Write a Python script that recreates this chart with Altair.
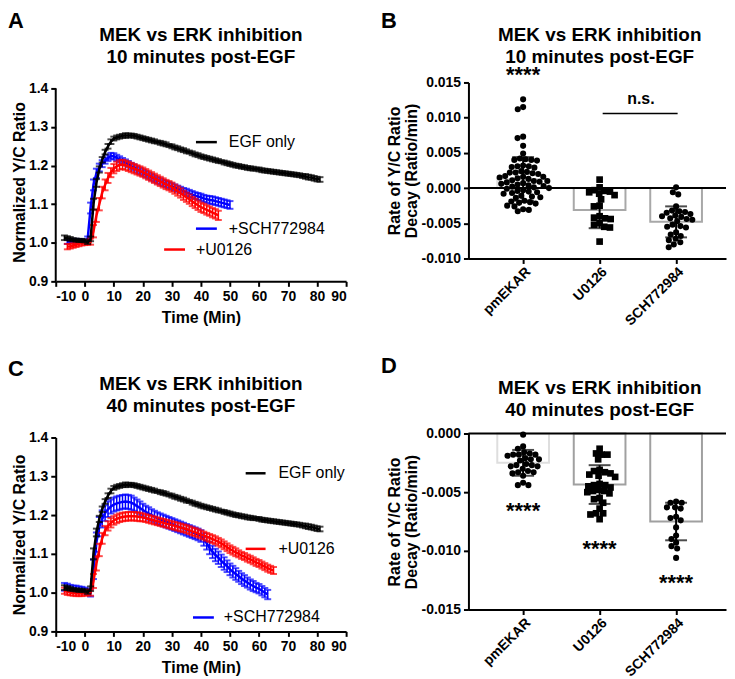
import math
import altair as alt
import pandas as pd

FONT = "Liberation Sans"
BLACK = "#000000"
BLUE = "#0000ff"
RED = "#ff0000"

CATS = ["pmEKAR", "U0126", "SCH772984"]
TITLE_10 = ["MEK vs ERK inhibition", "10 minutes post-EGF"]
TITLE_40 = ["MEK vs ERK inhibition", "40 minutes post-EGF"]

# ---------------- time-course data (Normalized Y/C ratio) ----------------
T_EGF = list(range(-7, 82))
EGF_MEAN = [1.013, 1.012, 1.010, 1.008, 1.007, 1.006, 1.006, 1.005, 1.001, 1.010,
            1.100, 1.155, 1.190, 1.215, 1.235, 1.250, 1.262, 1.270, 1.273, 1.275,
            1.277, 1.278, 1.278, 1.278, 1.277, 1.275, 1.273, 1.271, 1.269, 1.267,
            1.265, 1.263, 1.261, 1.259, 1.257, 1.255, 1.252, 1.250, 1.247, 1.245,
            1.242, 1.240, 1.237, 1.235, 1.232, 1.229, 1.227, 1.224, 1.222, 1.220,
            1.218, 1.216, 1.214, 1.212, 1.210, 1.208, 1.206, 1.204, 1.202, 1.200,
            1.199, 1.197, 1.196, 1.194, 1.193, 1.192, 1.191, 1.190, 1.188, 1.187,
            1.186, 1.185, 1.184, 1.183, 1.182, 1.181, 1.180, 1.179, 1.178, 1.177,
            1.176, 1.175, 1.173, 1.172, 1.170, 1.169, 1.167, 1.165, 1.164]
EGF_SEM = [0.006, 0.005, 0.005, 0.004, 0.004, 0.004, 0.004, 0.004, 0.004, 0.006,
           0.014, 0.010, 0.008, 0.007, 0.006, 0.006, 0.006, 0.005, 0.005, 0.005,
           0.005, 0.006, 0.005, 0.005, 0.005, 0.005, 0.005, 0.005, 0.005, 0.005,
           0.005, 0.005, 0.004, 0.005, 0.005, 0.005, 0.004, 0.005, 0.005, 0.005,
           0.005, 0.005, 0.005, 0.004, 0.005, 0.005, 0.005, 0.005, 0.005, 0.005,
           0.005, 0.005, 0.005, 0.005, 0.004, 0.005, 0.005, 0.005, 0.005, 0.005,
           0.005, 0.005, 0.005, 0.005, 0.005, 0.005, 0.004, 0.005, 0.005, 0.005,
           0.005, 0.005, 0.005, 0.005, 0.005, 0.005, 0.005, 0.005, 0.005, 0.005,
           0.005, 0.005, 0.005, 0.006, 0.006, 0.006, 0.006, 0.006, 0.006]

T_SCH_10 = list(range(-6, 51))
SCH_10_MEAN = [1.003, 1.004, 1.005, 1.005, 1.004, 1.004, 1.003, 1.010, 1.090,
               1.150, 1.180, 1.195, 1.205, 1.213, 1.220, 1.225, 1.224, 1.220, 1.216,
               1.212, 1.208, 1.204, 1.199, 1.195, 1.190, 1.186, 1.182, 1.178, 1.174,
               1.170, 1.166, 1.162, 1.159, 1.155, 1.152, 1.149, 1.146, 1.143, 1.140,
               1.137, 1.134, 1.131, 1.128, 1.125, 1.122, 1.120, 1.118, 1.115, 1.113,
               1.111, 1.110, 1.108, 1.106, 1.104, 1.102, 1.100, 1.098]
SCH_10_SEM = [0.006, 0.005, 0.005, 0.005, 0.005, 0.005, 0.005, 0.006, 0.014,
              0.014, 0.012, 0.010, 0.009, 0.008, 0.008, 0.008, 0.008, 0.008, 0.008,
              0.008, 0.008, 0.008, 0.008, 0.008, 0.008, 0.008, 0.008, 0.008, 0.008,
              0.008, 0.008, 0.008, 0.008, 0.008, 0.008, 0.008, 0.008, 0.008, 0.008,
              0.008, 0.008, 0.009, 0.009, 0.009, 0.009, 0.009, 0.009, 0.009, 0.009,
              0.010, 0.010, 0.010, 0.010, 0.010, 0.010, 0.010, 0.010]

T_U_10 = list(range(-6, 47))
U_10_MEAN = [0.990, 0.991, 0.993, 0.995, 0.997, 0.999, 1.000, 1.001, 1.003,
             1.030, 1.070, 1.100, 1.130, 1.150, 1.168, 1.182, 1.192, 1.198, 1.202,
             1.203, 1.201, 1.198, 1.195, 1.192, 1.189, 1.186, 1.183, 1.179, 1.175,
             1.171, 1.167, 1.163, 1.159, 1.155, 1.151, 1.148, 1.144, 1.139, 1.134,
             1.129, 1.123, 1.118, 1.113, 1.107, 1.102, 1.097, 1.092, 1.089, 1.085,
             1.082, 1.078, 1.075, 1.071]
U_10_SEM = [0.007, 0.006, 0.006, 0.006, 0.006, 0.006, 0.006, 0.006, 0.008,
            0.016, 0.016, 0.016, 0.015, 0.014, 0.013, 0.012, 0.012, 0.012, 0.012,
            0.012, 0.012, 0.012, 0.012, 0.012, 0.012, 0.012, 0.012, 0.012, 0.012,
            0.012, 0.012, 0.012, 0.012, 0.012, 0.012, 0.012, 0.012, 0.012, 0.012,
            0.012, 0.012, 0.012, 0.012, 0.012, 0.012, 0.012, 0.012, 0.012, 0.012,
            0.012, 0.012, 0.012, 0.012]

T_SCH_40 = list(range(-7, 64))
SCH_40_MEAN = [1.015, 1.013, 1.012, 1.010, 1.010, 1.008, 1.007, 1.005, 1.002, 1.000,
               1.060, 1.130, 1.170, 1.190, 1.205, 1.215, 1.222, 1.227, 1.230, 1.232,
               1.234, 1.235, 1.234, 1.232, 1.228, 1.223, 1.218, 1.213, 1.208, 1.204,
               1.200, 1.196, 1.192, 1.189, 1.186, 1.183, 1.180, 1.177, 1.174, 1.171,
               1.168, 1.165, 1.162, 1.159, 1.156, 1.153, 1.150, 1.146, 1.137, 1.127,
               1.115, 1.105, 1.097, 1.090, 1.082, 1.075, 1.068, 1.060, 1.054, 1.048,
               1.042, 1.036, 1.031, 1.026, 1.021, 1.017, 1.013, 1.010, 1.005, 1.000,
               0.995]
SCH_40_SEM = [0.010, 0.010, 0.008, 0.008, 0.008, 0.008, 0.008, 0.008, 0.008, 0.010,
              0.025, 0.025, 0.025, 0.022, 0.020, 0.020, 0.018, 0.018, 0.018, 0.018,
              0.018, 0.018, 0.018, 0.018, 0.017, 0.017, 0.017, 0.016, 0.016, 0.016,
              0.015, 0.015, 0.015, 0.015, 0.015, 0.015, 0.015, 0.015, 0.015, 0.015,
              0.015, 0.015, 0.015, 0.015, 0.015, 0.015, 0.015, 0.015, 0.016, 0.016,
              0.016, 0.016, 0.016, 0.016, 0.016, 0.016, 0.015, 0.015, 0.015, 0.015,
              0.014, 0.014, 0.014, 0.013, 0.013, 0.013, 0.012, 0.012, 0.012, 0.012,
              0.012]

T_U_40 = list(range(-7, 66))
U_40_MEAN = [1.005, 1.002, 1.000, 0.999, 0.998, 0.998, 0.998, 0.999, 1.000, 1.000,
             1.030, 1.075, 1.110, 1.140, 1.160, 1.172, 1.180, 1.186, 1.190, 1.193,
             1.195, 1.196, 1.197, 1.197, 1.197, 1.196, 1.195, 1.194, 1.192, 1.190,
             1.188, 1.186, 1.184, 1.182, 1.180, 1.178, 1.176, 1.174, 1.172, 1.170,
             1.168, 1.166, 1.164, 1.161, 1.158, 1.156, 1.153, 1.150, 1.147, 1.144,
             1.141, 1.138, 1.135, 1.131, 1.127, 1.122, 1.117, 1.112, 1.108, 1.104,
             1.100, 1.096, 1.093, 1.089, 1.086, 1.082, 1.078, 1.075, 1.071, 1.067,
             1.063, 1.060, 1.057]
U_40_SEM = [0.008, 0.008, 0.007, 0.007, 0.007, 0.007, 0.007, 0.007, 0.007, 0.008,
            0.018, 0.018, 0.016, 0.014, 0.012, 0.012, 0.012, 0.011, 0.011, 0.011,
            0.011, 0.011, 0.011, 0.011, 0.011, 0.011, 0.011, 0.010, 0.010, 0.010,
            0.010, 0.010, 0.010, 0.010, 0.010, 0.010, 0.010, 0.010, 0.010, 0.010,
            0.010, 0.010, 0.010, 0.010, 0.010, 0.010, 0.010, 0.010, 0.010, 0.010,
            0.010, 0.010, 0.010, 0.010, 0.010, 0.010, 0.010, 0.010, 0.010, 0.010,
            0.009, 0.009, 0.009, 0.009, 0.009, 0.009, 0.009, 0.009, 0.009, 0.009,
            0.009, 0.009, 0.009]

# ---------------- decay-rate data (Ratio/min) ----------------
B_PM = [0.0126, 0.0115, 0.0112, 0.0073, 0.0071, 0.0060, 0.0049,
        0.0042, 0.0041, 0.0040, 0.0040, 0.0039,
        0.0032, 0.0031, 0.0031, 0.0030, 0.0029,
        0.0024, 0.0023, 0.0022, 0.0022, 0.0021, 0.0020,
        0.0017, 0.0016, 0.0016, 0.0015, 0.0014, 0.0013,
        0.0011, 0.0010, 0.0010, 0.0009, 0.0008, 0.0007, 0.0006,
        0.0005, 0.0004, 0.0003, 0.0002, 0.0001, 0.0000, -0.0001,
        -0.0003, -0.0004, -0.0005, -0.0006, -0.0007, -0.0008,
        -0.0011, -0.0012, -0.0013, -0.0014,
        -0.0018, -0.0019, -0.0020, -0.0021, -0.0022,
        -0.0025, -0.0026, -0.0030, -0.0031, -0.0033]
B_U = [0.0012, 0.0001, -0.0003, -0.0004, -0.0005, -0.0006, -0.0008, -0.0010,
       -0.0016, -0.0025, -0.0026, -0.0040, -0.0042, -0.0043, -0.0044, -0.0050,
       -0.0052, -0.0055, -0.0056, -0.0076]
B_SCH = [0.0001, -0.0006, -0.0009, -0.0026, -0.0032, -0.0033, -0.0034, -0.0035,
         -0.0037, -0.0039, -0.0040, -0.0041, -0.0043, -0.0044, -0.0045, -0.0047,
         -0.0052, -0.0054, -0.0055, -0.0056, -0.0063, -0.0066, -0.0068, -0.0072,
         -0.0074, -0.0077, -0.0080, -0.0084]
B_MEAN = [0.0013, -0.0031, -0.0048]
B_SD = [0.0031, 0.0026, 0.0022]

D_PM = [-0.0001, -0.0011, -0.0013, -0.0016, -0.0017, -0.0018, -0.0018, -0.0018,
        -0.0019, -0.0021, -0.0022, -0.0022, -0.0023, -0.0026, -0.0027, -0.0027,
        -0.0028, -0.0028, -0.0030, -0.0032, -0.0033, -0.0033, -0.0034, -0.0036,
        -0.0042, -0.0044, -0.0044]
D_U = [-0.0013, -0.0017, -0.0018, -0.0018, -0.0022, -0.0031, -0.0032, -0.0033,
       -0.0034, -0.0035, -0.0036, -0.0037, -0.0043, -0.0044, -0.0044, -0.0045,
       -0.0046, -0.0048, -0.0049, -0.0049, -0.0050, -0.0051, -0.0055, -0.0056,
       -0.0059, -0.0064, -0.0068, -0.0068, -0.0069, -0.0073]
D_SCH = [-0.0058, -0.0059, -0.0059, -0.0063, -0.0063, -0.0064, -0.0071, -0.0072,
         -0.0074, -0.0080, -0.0087, -0.0090, -0.0093, -0.0096, -0.0098, -0.0106]
D_MEAN = [-0.0025, -0.00435, -0.0075]
D_SD = [0.0011, 0.00165, 0.0016]

ONE = pd.DataFrame({"k": [0]})
MINUS_FIX = "'\u2212', '-'"
Y_TICKS_T = [0.9, 1.0, 1.1, 1.2, 1.3, 1.4]


# ---------------- helpers ----------------
def xt(field):
    return alt.X(f"{field}:Q", scale=alt.Scale(domain=[-10, 90], nice=False, zero=False),
                 axis=alt.Axis(values=list(range(-10, 91, 10)), title="Time (Min)",
                               labelExpr=f"replace(format(datum.value, 'd'), {MINUS_FIX})",
                               titlePadding=6))


def make_yt(top, domain_line):
    def yf(field=None, datum=None):
        kw = dict(scale=alt.Scale(domain=[0.9, top], nice=False, zero=False),
                  axis=alt.Axis(values=Y_TICKS_T, format=".1f", domain=domain_line,
                                title="Normalized Y/C Ratio", titlePadding=1))
        if field is not None:
            return alt.Y(f"{field}:Q", **kw)
        return alt.YDatum(datum, **kw)
    return yf


def series(times, means, sems, color, yf):
    df = pd.DataFrame({"t": times, "m": means,
                       "lo": [m - s for m, s in zip(means, sems)],
                       "hi": [m + s for m, s in zip(means, sems)]})
    base = alt.Chart(df)
    return [
        base.mark_rule(color=color, strokeWidth=1.5).encode(x=xt("t"), y=yf("lo"), y2="hi"),
        base.mark_tick(color=color, orient="horizontal", size=7, thickness=2).encode(x=xt("t"), y=yf("lo")),
        base.mark_tick(color=color, orient="horizontal", size=7, thickness=2).encode(x=xt("t"), y=yf("hi")),
        base.mark_line(color=color, strokeWidth=2.5).encode(x=xt("t"), y=yf("m")),
    ]


def ptext(txt, x, y, size, weight="bold", align="center", baseline="alphabetic"):
    return alt.Chart(ONE).mark_text(font=FONT, fontSize=size, fontWeight=weight, align=align,
                                    baseline=baseline, color="black").encode(
        x=alt.value(x), y=alt.value(y), text=alt.value(txt))


def title_lines(lines, x, y):
    return [ptext(lines[0], x, y, 19), ptext(lines[1], x, y + 22, 19)]


def anchor(y):
    # invisible mark fixing how far the panel reaches above its plot area
    return alt.Chart(ONE).mark_rule(strokeWidth=1, opacity=0, color="white").encode(
        x=alt.value(40), x2=alt.value(41), y=alt.value(y))


def seg(x1, x2, y, color):
    return alt.Chart(ONE).mark_rule(color=color, strokeWidth=2.5).encode(
        x=alt.value(x1), x2=alt.value(x2), y=alt.value(y))


def legend_item(x1, x2, y, tx, label, color):
    return [seg(x1, x2, y, color),
            ptext(label, tx, y, 16, weight="normal", align="left", baseline="middle")]


# ---------------- panels A and C ----------------
# Panel A's plot box starts 6px above its 1.4 tick (aligned with panel B's box),
# so its y axis line is drawn from 0.9 to 1.4 by a rule.
A_TOP = 1.4 + 6 / 388.0
yA = make_yt(A_TOP, False)
yC = make_yt(1.4, True)

A = alt.layer(
    *series(T_SCH_10, SCH_10_MEAN, SCH_10_SEM, BLUE, yA),
    *series(T_U_10, U_10_MEAN, U_10_SEM, RED, yA),
    *series(T_EGF, EGF_MEAN, EGF_SEM, BLACK, yA),
    alt.Chart(ONE).mark_rule(color="black", strokeWidth=2).encode(
        x=alt.value(0), y=yA(datum=0.9), y2=alt.datum(1.4)),
    *legend_item(141, 162, 60, 174, "EGF only", BLACK),
    *legend_item(141, 162, 147, 174, "+SCH772984", BLUE),
    *legend_item(109, 130, 168, 141, "+U0126", RED),
    *title_lines(TITLE_10, 146, -42),
    ptext("A", -48, -55, 22, align="left"),
    anchor(-72.5),
).properties(width=292, height=200)

C = alt.layer(
    *series(T_SCH_40, SCH_40_MEAN, SCH_40_SEM, BLUE, yC),
    *series(T_U_40, U_40_MEAN, U_40_SEM, RED, yC),
    *series(T_EGF, EGF_MEAN, EGF_SEM, BLACK, yC),
    *legend_item(191, 211, 36, 224, "EGF only", BLACK),
    *legend_item(191, 211, 112, 224, "+U0126", RED),
    *legend_item(138, 159, 181, 169, "+SCH772984", BLUE),
    *title_lines(TITLE_40, 146, -48),
    ptext("C", -48, -62, 22, align="left"),
    anchor(-80),
).properties(width=292, height=195)

# ---------------- panels B and D ----------------
PX_PER_CAT = 80.0
LABEL_EXPR = (f"datum.value == 0 ? '{CATS[0]}' : datum.value == 1 ? '{CATS[1]}' : '{CATS[2]}'")


def xc(field=None, datum=None):
    kw = dict(scale=alt.Scale(domain=[-0.65, 2.5875], nice=False, zero=False),
              axis=alt.Axis(values=[0, 1, 2], labelExpr=LABEL_EXPR, labelAngle=315,
                            labelPadding=1, title=None))
    if field is not None:
        return alt.X(f"{field}:Q", **kw)
    return alt.XDatum(datum, **kw)


def make_y(domain, values):
    def yf(field=None, datum=None):
        kw = dict(scale=alt.Scale(domain=domain, nice=False, zero=False),
                  axis=alt.Axis(values=values,
                                labelExpr=f"replace(format(datum.value, '.3f'), {MINUS_FIX})",
                                title=["Rate of Y/C Ratio", "Decay (Ratio/min)"],
                                titlePadding=2, titleLineHeight=17))
        if field is not None:
            return alt.Y(f"{field}:Q", **kw)
        return alt.YDatum(datum, **kw)
    return yf


def swarm(vals, px_per_unit, d=6.0):
    ys = [v * px_per_unit for v in vals]
    order = sorted(range(len(vals)), key=lambda i: -vals[i])
    placed = []
    off = [0.0] * len(vals)
    for i in order:
        y = ys[i]
        near = [(px, py) for (px, py) in placed if abs(py - y) < d]
        cands = [0.0]
        for px, py in near:
            dx = math.sqrt(d * d - (py - y) ** 2)
            cands += [px + dx, px - dx]
        cands.sort(key=lambda c: (abs(c), c))
        for c in cands:
            if all((c - px) ** 2 + (y - py) ** 2 >= d * d - 1e-6 for px, py in near):
                off[i] = c
                placed.append((c, y))
                break
    return off


def dot_panel(groups, means, sds, yf, px_per_unit, bar_colors):
    rows = []
    shapes = ["circle", "square", "circle"]
    sizes = [38, 45, 38]
    for gi, vals in enumerate(groups):
        offs = swarm(vals, px_per_unit)
        for v, o in zip(vals, offs):
            rows.append({"pos": gi + o / PX_PER_CAT, "v": v,
                         "shape": shapes[gi], "sz": sizes[gi]})
    pts = pd.DataFrame(rows)
    bars = pd.DataFrame({"pos": [0, 1, 2], "m": means, "col": bar_colors})
    err = pd.DataFrame({"pos": [0, 1, 2],
                        "lo": [m - s for m, s in zip(means, sds)],
                        "hi": [m + s for m, s in zip(means, sds)]})
    return [
        alt.Chart(bars).mark_bar(size=52, fillOpacity=0, strokeWidth=2).encode(
            x=xc("pos"), y=yf("m"), y2=alt.datum(0),
            stroke=alt.Stroke("col:N", scale=None)),
        alt.Chart(ONE).mark_rule(color="black", strokeWidth=2).encode(y=yf(datum=0)),
        alt.Chart(pts).mark_point(filled=True, opacity=1, color="black", strokeWidth=0).encode(
            x=xc("pos"), y=yf("v"),
            shape=alt.Shape("shape:N", scale=None),
            size=alt.Size("sz:Q", scale=None)),
        alt.Chart(err).mark_rule(color="black", strokeWidth=2).encode(
            x=xc("pos"), y=yf("lo"), y2="hi"),
        alt.Chart(err).mark_tick(color="black", orient="horizontal", size=22, thickness=2).encode(
            x=xc("pos"), y=yf("lo")),
        alt.Chart(err).mark_tick(color="black", orient="horizontal", size=22, thickness=2).encode(
            x=xc("pos"), y=yf("hi")),
    ]


def stars(pos, yv, yf):
    return alt.Chart(ONE).mark_text(font=FONT, fontSize=22, fontWeight="bold",
                                    baseline="alphabetic", color="black").encode(
        x=xc(datum=pos), y=yf(datum=yv), text=alt.value("****"))


yB = make_y([-0.010, 0.015], [-0.010, -0.005, 0.0, 0.005, 0.010, 0.015])
yD = make_y([-0.015, 0.0], [-0.015, -0.010, -0.005, 0.0])

B = alt.layer(
    *dot_panel([B_PM, B_U, B_SCH], B_MEAN, B_SD, yB, 177 / 0.025,
               ["#dedede", "#a8a8a8", "#a8a8a8"]),
    stars(0, 0.0150, yB),
    alt.Chart(ONE).mark_text(font=FONT, fontSize=16, fontWeight="bold",
                             baseline="alphabetic", color="black").encode(
        x=xc(datum=1.54), y=yB(datum=0.0120), text=alt.value("n.s.")),
    alt.Chart(ONE).mark_rule(color="black", strokeWidth=1.5).encode(
        x=xc(datum=1.04), x2=alt.datum(2.02), y=yB(datum=0.0106)),
    *title_lines(TITLE_10, 132, -42),
    ptext("B", -88, -55, 22, align="left"),
    anchor(-72.5),
).properties(width=259, height=177)

D = alt.layer(
    *dot_panel([D_PM, D_U, D_SCH], D_MEAN, D_SD, yD, 177 / 0.015,
               ["#dedede", "#a0a0a0", "#a0a0a0"]),
    stars(0, -0.0072, yD),
    stars(1, -0.0104, yD),
    stars(2, -0.0133, yD),
    *title_lines(TITLE_40, 132, -40),
    ptext("D", -88, -61, 22, align="left"),
    anchor(-79),
).properties(width=259, height=177)

col1 = alt.vconcat(A, C, spacing=33)
col2 = alt.vconcat(B, D, spacing=27)

chart = alt.hconcat(col1, col2, spacing=34).properties(
    padding={"left": 0, "top": 0, "right": 0, "bottom": 0}
).configure_view(strokeWidth=0).configure_axis(
    grid=False, domainColor="black", domainWidth=2, tickColor="black", tickWidth=2,
    tickSize=5, labelPadding=3, labelFont=FONT, labelFontSize=14, labelFontWeight="bold",
    labelColor="black", titleFont=FONT, titleFontSize=16, titleFontWeight="bold",
    titleColor="black"
)

chart.save("out.html", embed_options={"renderer": "svg", "actions": False})
